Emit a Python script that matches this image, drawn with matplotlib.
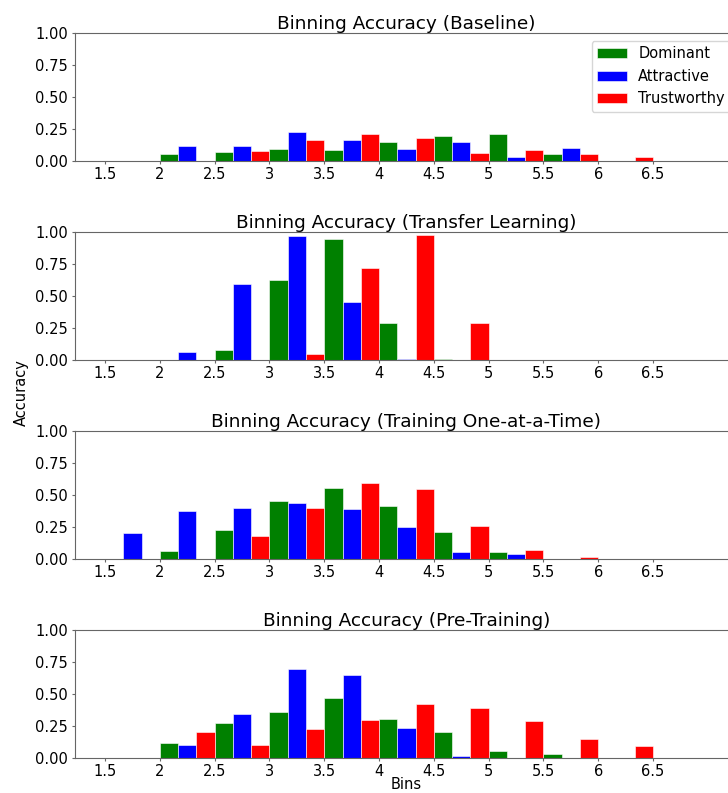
import numpy as np
import matplotlib
matplotlib.use("Agg")
import matplotlib.pyplot as plt

bins = ["1.5", "2", "2.5", "3", "3.5", "4", "4.5", "5", "5.5", "6", "6.5"]
labels = ["Dominant", "Attractive", "Trustworthy"]
colors = ["green", "blue", "red"]

# accuracy per bin for each experiment (dominant, attractive, trustworthy)
baseline_dom = [0, 0.06, 0.07, 0.094, 0.089, 0.148, 0.198, 0.211, 0.057, 0, 0]
baseline_att = [0, 0.12, 0.12, 0.232, 0.167, 0.099, 0.151, 0.036, 0.104, 0, 0]
baseline_tru = [0, 0, 0.08, 0.169, 0.216, 0.18, 0.065, 0.086, 0.055, 0.036, 0]

transfer_dom = [0, 0, 0.083, 0.63, 0.951, 0.289, 0.01, 0, 0, 0, 0]
transfer_att = [0, 0.068, 0.596, 0.974, 0.458, 0.01, 0, 0, 0, 0, 0]
transfer_tru = [0, 0, 0, 0.047, 0.719, 0.979, 0.294, 0, 0, 0, 0]

oneatatime_dom = [0, 0.063, 0.223, 0.454, 0.551, 0.412, 0.21, 0.055, 0, 0, 0]
oneatatime_att = [0.202, 0.37, 0.396, 0.436, 0.388, 0.247, 0.055, 0.039, 0, 0, 0]
oneatatime_tru = [0, 0, 0.178, 0.396, 0.59, 0.543, 0.255, 0.068, 0.013, 0, 0]

pretrain_dom = [0, 0.115, 0.273, 0.357, 0.469, 0.305, 0.2, 0.057, 0.034, 0, 0]
pretrain_att = [0, 0.102, 0.344, 0.695, 0.648, 0.237, 0.013, 0, 0, 0, 0]
pretrain_tru = [0, 0.203, 0.102, 0.224, 0.297, 0.424, 0.388, 0.292, 0.151, 0.091, 0]

titles = ["Binning Accuracy (Baseline)",
          "Binning Accuracy (Transfer Learning)",
          "Binning Accuracy (Training One-at-a-Time)",
          "Binning Accuracy (Pre-Training)"]
series = [
    (baseline_dom, baseline_att, baseline_tru),
    (transfer_dom, transfer_att, transfer_tru),
    (oneatatime_dom, oneatatime_att, oneatatime_tru),
    (pretrain_dom, pretrain_att, pretrain_tru),
]

fig = plt.figure(figsize=(7.28, 7.93), dpi=100)
x = np.arange(len(bins))
w = 1 / 3
bottoms = [0.7966, 0.5457, 0.2955, 0.0441]

axes = []
for i, (title, vals) in enumerate(zip(titles, series)):
    ax = fig.add_axes([0.103, bottoms[i], 0.9107, 0.1614])
    for k in range(3):
        ax.bar(x + k * w, vals[k], width=w, align="edge", color=colors[k],
               edgecolor="white", linewidth=0.4, label=labels[k])
    ax.set_ylim(0, 1)
    ax.set_yticks([0, 0.25, 0.5, 0.75, 1.0])
    ax.set_yticklabels(["0.00", "0.25", "0.50", "0.75", "1.00"])
    ax.set_xticks(x)
    ax.set_xticklabels(bins)
    ax.tick_params(labelsize=10.5, length=2.5, pad=2.5, color="0.4")
    ax.tick_params(axis="x", pad=1.8)
    for s in ax.spines.values():
        s.set_color("0.4")
        s.set_linewidth(0.8)
    ax.set_title(title, fontsize=13.3, pad=3)
    axes.append(ax)

axes[0].legend(loc="upper right", fontsize=10.5)
axes[-1].set_xlabel("Bins", fontsize=10.5, labelpad=-1.5)
fig.text(21 / 728, 0.5044, "Accuracy", rotation=90, fontsize=10.5,
         ha="center", va="center")

fig.savefig("out.png", dpi=100)
